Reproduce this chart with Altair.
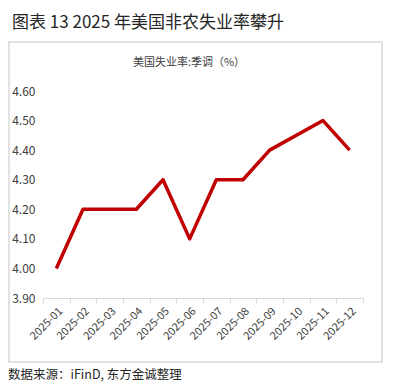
import altair as alt
import pandas as pd

months = ["2025-01", "2025-02", "2025-03", "2025-04", "2025-05", "2025-06",
          "2025-07", "2025-08", "2025-09", "2025-10", "2025-11", "2025-12"]
rate = [4.0, 4.2, 4.2, 4.2, 4.3, 4.1, 4.3, 4.3, 4.4, None, 4.5, 4.4]
y_ticks = [3.9, 4.0, 4.1, 4.2, 4.3, 4.4, 4.5, 4.6]
title_text = ["图表 13 2025 年美国非农失业率攀升"]
series_name = ["美国失业率:季调（%）"]
source_text = ["数据来源：iFinD, 东方金诚整理"]

FONT = "Noto Sans CJK SC"
W, H = 320, 207

df = pd.DataFrame({"month": months, "rate": rate})

line = alt.Chart(df).transform_filter("isValid(datum.rate)").mark_line(
    color="#C00000", strokeWidth=3.5, strokeJoin="round"
).encode(
    x=alt.X("month:N", sort=months, bandPosition=0.5,
            scale=alt.Scale(type="band", domain=months, paddingInner=0, paddingOuter=0),
            axis=alt.Axis(labelAngle=-45, tickBand="extent", domainColor="#d9d9d9",
                          tickColor="#d9d9d9", tickSize=5, labelFontSize=11,
                          labelColor="#404040", labelFont=FONT, grid=False, title=None)),
    y=alt.Y("rate:Q", scale=alt.Scale(domain=[3.9, 4.6], nice=False, zero=False),
            axis=alt.Axis(values=y_ticks, format=".2f", domain=False, ticks=False, grid=False,
                          labelPadding=8, labelFontSize=12, labelColor="#404040",
                          labelFont=FONT, title=None)),
)

border = alt.Chart(pd.DataFrame({"a": [0]})).mark_rect(
    fill="transparent", stroke="#d9d9d9", strokeWidth=1.5
).encode(x=alt.value(-34), x2=alt.value(339), y=alt.value(-49), y2=alt.value(271))

title = alt.Chart(pd.DataFrame({"t": title_text})).mark_text(
    align="left", baseline="middle", fontSize=17, font=FONT, color="#262626"
).encode(text="t:N", x=alt.value(-31), y=alt.value(-68.5))

legend = alt.Chart(pd.DataFrame({"t": series_name})).mark_text(
    align="center", baseline="middle", fontSize=11, font=FONT, color="#404040"
).encode(text="t:N", x=alt.value(146), y=alt.value(-28.5))

source = alt.Chart(pd.DataFrame({"t": source_text})).mark_text(
    align="left", baseline="middle", fontSize=12.5, font=FONT, color="#262626"
).encode(text="t:N", x=alt.value(-35), y=alt.value(284))

chart = alt.layer(border, line, title, legend, source).properties(
    width=W, height=H,
    autosize=alt.AutoSizeParams(type="none"),
    padding={"left": 35, "top": 83, "right": 28, "bottom": 85},
    background="white",
).configure_view(stroke=None)

chart.save("out.html", embed_options={"renderer": "svg", "actions": False})
